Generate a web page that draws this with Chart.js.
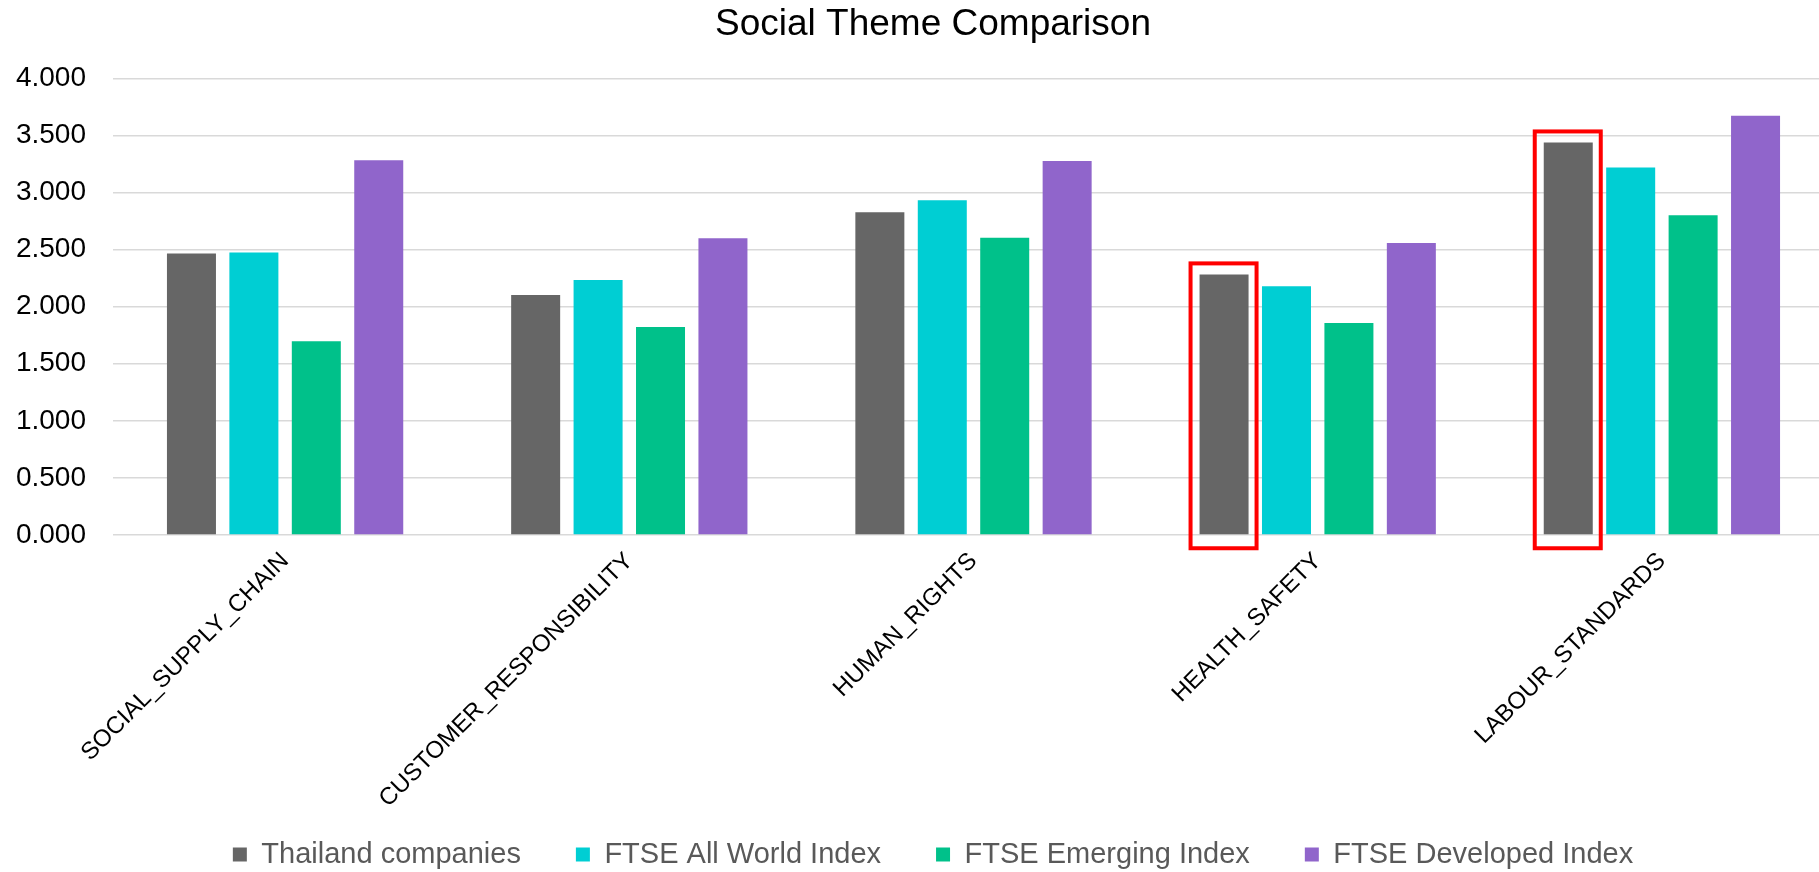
<!DOCTYPE html>
<html>
<head>
<meta charset="utf-8">
<title>Social Theme Comparison</title>
<script src="https://cdn.jsdelivr.net/npm/chart.js@4.4.1/dist/chart.umd.min.js"></script>
<style>
  html, body { margin: 0; padding: 0; background: #fff; overflow: hidden; }
  #wrap { position: relative; width: 1819px; height: 872px; overflow: hidden; }
</style>
</head>
<body>
<div id="wrap"><canvas id="socialChart"></canvas></div>
<script>
  // data
  const themes = ['SOCIAL_SUPPLY_CHAIN', 'CUSTOMER_RESPONSIBILITY', 'HUMAN_RIGHTS', 'HEALTH_SAFETY', 'LABOUR_STANDARDS'];
  const thailand = [2.465, 2.102, 2.828, 2.283, 3.439];
  const allWorld = [2.474, 2.234, 2.933, 2.179, 3.219];
  const emerging = [1.697, 1.822, 2.605, 1.857, 2.801];
  const developed = [3.284, 2.599, 3.277, 2.559, 3.672];
  const highlighted = ['HEALTH_SAFETY', 'LABOUR_STANDARDS'];

  const colors = {
    thailand: '#666666',
    allWorld: '#00CED3',
    emerging: '#00C18A',
    developed: '#9065CB',
    grid: '#D9D9D9',
    legendText: '#595959',
    box: '#FF0000'
  };

  const font = "'Liberation Sans', Arial, sans-serif";

  // red frames round the Thailand bar of the highlighted themes
  const highlightBoxes = {
    id: 'highlightBoxes',
    afterDatasetsDraw(chart) {
      const meta = chart.getDatasetMeta(0);
      const ctx = chart.ctx;
      ctx.save();
      ctx.strokeStyle = colors.box;
      ctx.lineWidth = 4;
      highlighted.forEach(function (name) {
        const i = themes.indexOf(name);
        const bar = meta.data[i];
        if (!bar) return;
        const left = bar.x - bar.width / 2 - 9;
        const right = bar.x + bar.width / 2 + 8;
        const top = bar.y - 11;
        const bottom = bar.base + 14;
        ctx.strokeRect(left, top, right - left, bottom - top);
      });
      ctx.restore();
    }
  };

  // the plot runs a little past the right edge of the window, as in the original
  const el = document.getElementById('socialChart');
  el.width = 1834;
  el.height = 872;

  new Chart(el, {
    type: 'bar',
    data: {
      labels: themes,
      datasets: [
        { label: 'Thailand companies', data: thailand, backgroundColor: colors.thailand },
        { label: 'FTSE All World Index', data: allWorld, backgroundColor: colors.allWorld },
        { label: 'FTSE Emerging Index', data: emerging, backgroundColor: colors.emerging },
        { label: 'FTSE Developed Index', data: developed, backgroundColor: colors.developed }
      ]
    },
    options: {
      responsive: false,
      animation: false,
      devicePixelRatio: 1,
      categoryPercentage: 0.7255,
      barPercentage: 0.785,
      layout: { padding: { left: 0, right: -32, top: 0, bottom: -7 } },
      plugins: {
        title: {
          display: true,
          text: 'Social Theme Comparison',
          color: '#000',
          font: { family: font, size: 37, weight: 'normal' },
          padding: { top: 3, bottom: 31 }
        },
        legend: {
          position: 'bottom',
          labels: {
            color: colors.legendText,
            font: { family: font, size: 29 },
            boxWidth: 14,
            boxHeight: 14,
            padding: 55
          }
        },
        tooltip: { enabled: false }
      },
      scales: {
        x: {
          grid: { display: false, drawTicks: false },
          border: { display: false },
          ticks: {
            color: '#000',
            font: { family: font, size: 24 },
            minRotation: 45,
            maxRotation: 45,
            padding: 12
          },
          afterFit: function (scale) {
            scale.height = 250;
            // long labels hang a little below the axis box, don't cut them
            scale._computeLabelArea = function () { return undefined; };
          }
        },
        y: {
          min: 0,
          max: 4,
          grid: { color: colors.grid, lineWidth: 1.5, drawTicks: false },
          border: { display: false },
          ticks: {
            stepSize: 0.5,
            color: '#000',
            font: { family: font, size: 28 },
            padding: 27,
            callback: function (v) { return Number(v).toFixed(3); }
          },
          afterFit: function (scale) { scale.width = 113; }
        }
      }
    },
    plugins: [highlightBoxes]
  });
</script>
</body>
</html>
